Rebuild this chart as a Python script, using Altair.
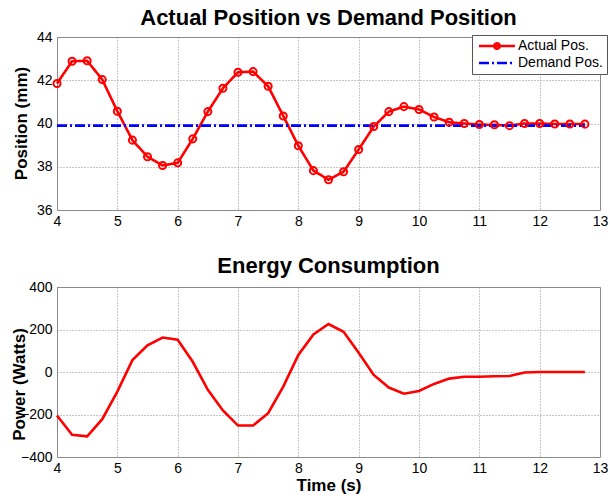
import altair as alt
import pandas as pd

time_s = [4.0, 4.25, 4.5, 4.75, 5.0, 5.25, 5.5, 5.75, 6.0, 6.25, 6.5, 6.75,
          7.0, 7.25, 7.5, 7.75, 8.0, 8.25, 8.5, 8.75, 9.0, 9.25, 9.5, 9.75,
          10.0, 10.25, 10.5, 10.75, 11.0, 11.25, 11.5, 11.75, 12.0, 12.25, 12.5, 12.75]
actual_pos = [41.85, 42.88, 42.9, 42.03, 40.57, 39.23, 38.46, 38.06, 38.18, 39.29, 40.55, 41.63,
              42.37, 42.4, 41.72, 40.35, 38.97, 37.82, 37.4, 37.77, 38.8, 39.86, 40.55, 40.78,
              40.65, 40.3, 40.06, 40.0, 39.95, 39.94, 39.9, 40.0, 40.0, 39.98, 39.98, 39.97]
demand_pos = [39.9] * len(time_s)
power_w = [-205, -295, -303, -222, -92, 56, 125, 162, 152, 48, -84, -181,
           -252, -252, -194, -69, 80, 177, 226, 189, 91, -14, -73, -102,
           -89, -56, -31, -22, -22, -20, -19, -2, 0, 0, 0, 0]

series_names = ["Actual Pos.", "Demand Pos."]
series_colors = ["#ff0000", "#0000ff"]
x_ticks = [4, 5, 6, 7, 8, 9, 10, 11, 12, 13]
pos_ticks = [36, 38, 40, 42, 44]
pow_ticks = [-400, -200, 0, 200, 400]

FONT = "Liberation Sans"

pos_df = pd.concat([
    pd.DataFrame({"t": time_s, "v": actual_pos, "series": series_names[0]}),
    pd.DataFrame({"t": time_s, "v": demand_pos, "series": series_names[1]}),
])
act_df = pd.DataFrame({"t": time_s, "v": actual_pos})
pow_df = pd.DataFrame({"t": time_s, "p": power_w})

W = 543

grid_axis = dict(
    grid=True, gridColor="#8c8c8c", gridDash=[1, 2], gridWidth=1,
    domain=False, ticks=False, labelFlush=False,
    labelFont=FONT, labelFontSize=14, labelColor="#000",
    titleFont=FONT, titleFontSize=17, titleFontWeight="bold", titleColor="#000",
)

x_scale = alt.Scale(domain=[4, 13], nice=False, zero=False)
color_scale = alt.Scale(domain=series_names, range=series_colors)

legend_cfg = alt.Legend(
    title=None, orient="none", legendX=415, legendY=-2,
    fillColor="#ffffff", strokeColor="#555555", padding=4,
    labelFont=FONT, labelFontSize=14, labelColor="#000",
    symbolSize=100, symbolStrokeWidth=2.5, symbolOffset=14, labelOffset=14,
    rowPadding=2,
)

x_top = alt.X("t:Q", scale=x_scale, title=None,
              axis=alt.Axis(values=x_ticks, format="d", labelPadding=4, **grid_axis))
y_top = alt.Y("v:Q", scale=alt.Scale(domain=[36, 44], nice=False, zero=False),
              axis=alt.Axis(values=pos_ticks, title="Position (mm)", labelPadding=5,
                            titleX=-36, titleY=86, titleBaseline="middle", **grid_axis))

lines = alt.Chart(pos_df).mark_line(strokeWidth=2.6).encode(
    x=x_top, y=y_top,
    color=alt.Color("series:N", scale=color_scale, legend=legend_cfg),
    strokeDash=alt.StrokeDash("series:N",
                              scale=alt.Scale(domain=series_names, range=[[1, 0], [10, 3, 2, 3]]),
                              legend=legend_cfg),
)
points = alt.Chart(act_df).mark_point(
    shape="circle", filled=False, size=50, strokeWidth=2, color="#ff0000", opacity=1
).encode(x="t:Q", y="v:Q")

ghost = alt.Chart(pos_df).transform_filter("false").mark_point(opacity=1, strokeWidth=2.5).encode(
    x="t:Q", y="v:Q",
    color=alt.Color("series:N", scale=color_scale, legend=legend_cfg),
    shape=alt.Shape("series:N", scale=alt.Scale(
        domain=series_names,
        range=["M-3.6,0L3.6,0M-0.55,0A0.55,0.55 0 1 1 0.55,0A0.55,0.55 0 1 1 -0.55,0",
               "M-3.6,0L3.6,0"]), legend=legend_cfg),
)

top = alt.layer(lines, points, ghost).properties(
    width=W, height=173,
    title=alt.Title("Actual Position vs Demand Position", font=FONT, fontSize=22,
                    fontWeight="bold", color="#000", offset=0, anchor="middle"),
)

bottom = alt.Chart(pow_df).mark_line(strokeWidth=2.6, color="#ff0000").encode(
    x=alt.X("t:Q", scale=x_scale, title="Time (s)",
            axis=alt.Axis(values=x_ticks, format="d", labelPadding=4, titlePadding=2, **grid_axis)),
    y=alt.Y("p:Q", scale=alt.Scale(domain=[-400, 400], nice=False),
            axis=alt.Axis(values=pow_ticks, title="Power (Watts)", labelPadding=5,
                          titleX=-38, titleY=97, titleBaseline="middle", **grid_axis)),
).properties(
    width=W, height=170,
    title=alt.Title("Energy Consumption", font=FONT, fontSize=22,
                    fontWeight="bold", color="#000", offset=2, anchor="middle"),
)

chart = alt.vconcat(top, bottom, spacing=25).configure_view(
    stroke="#8a8a8a", strokeWidth=1
).properties(
    padding={"left": 9, "top": 6, "right": 0, "bottom": 0}, background="#ffffff"
).resolve_scale(color="independent", strokeDash="independent", shape="independent")

chart.save("out.html", embed_options={"renderer": "svg", "actions": False})
